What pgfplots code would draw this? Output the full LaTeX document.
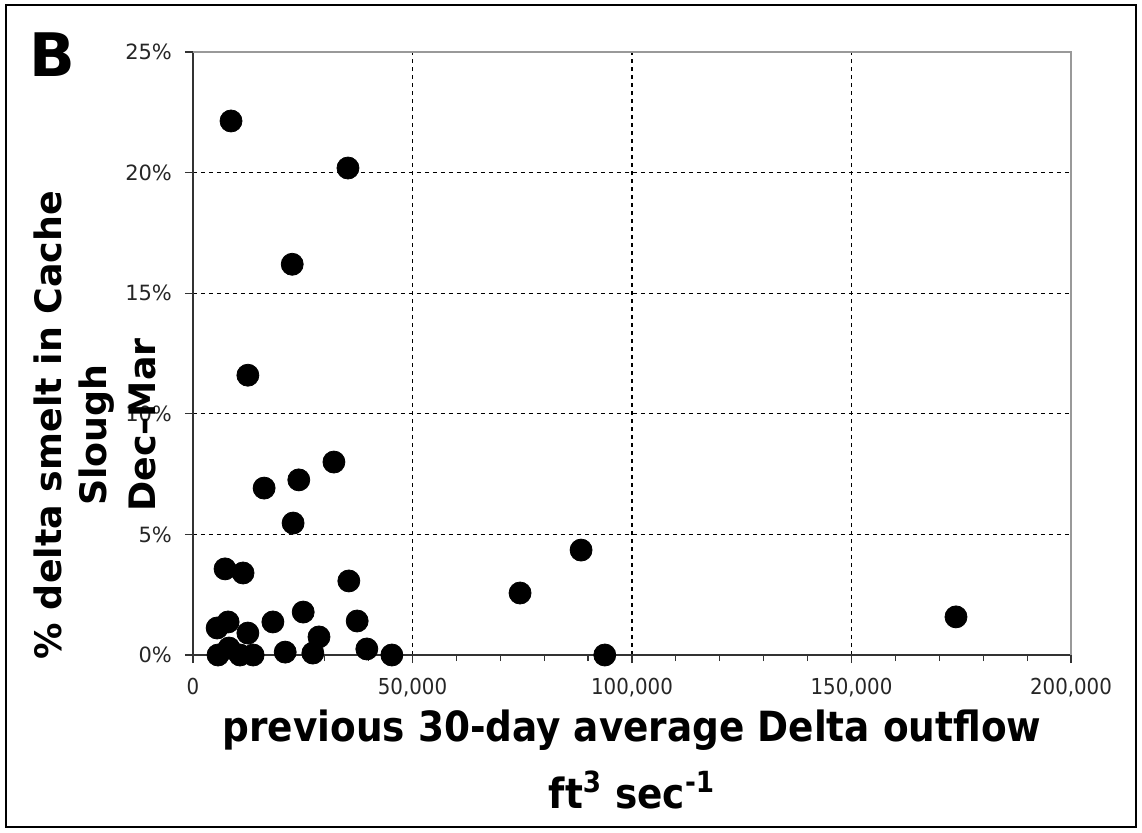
\documentclass[border=0pt]{standalone}
\usepackage{fontspec}
\setmainfont{DejaVu Sans}
\newfontfamily\condfont{DejaVu Sans Condensed}
\usepackage{pgfplots}
\pgfplotsset{compat=1.18}

\begin{document}
\begin{tikzpicture}
\begin{axis}[
  scale only axis,
  width=439pt, height=301.5pt,
  xmin=0, xmax=200000,
  ymin=0, ymax=25,
  axis x line*=bottom,
  axis y line*=left,
  axis line style={black!80, line width=0.8pt},
  xtick={0,50000,100000,150000,200000},
  xticklabels={0,{50,000},{100,000},{150,000},{200,000}},
  minor x tick num=4,
  ytick={0,5,10,15,20,25},
  yticklabels={0\%,5\%,10\%,15\%,20\%,25\%},
  tick align=outside,
  major tick length=4pt,
  minor tick length=3pt,
  tick style={black!80, line width=0.6pt},
  xmajorgrids, ymajorgrids,
  major grid style={black, line width=0.55pt, dash pattern=on 2pt off 2pt},
  scaled x ticks=false,
  xticklabel style={font=\condfont\fontsize{11}{12}\selectfont, text=black!85, yshift=-4pt},
  yticklabel style={font=\fontsize{10.5}{12}\selectfont, text=black!85, xshift=-3pt},
  clip=false,
]
\draw[black!40, line width=1.2pt] (rel axis cs:0,1) -- (rel axis cs:1,1) -- (rel axis cs:1,0);
\addplot[only marks, mark=*, mark size=5.5pt, black] coordinates {
 (8660,22.14) (35300,20.19) (22600,16.2) (12500,11.6) (32100,8.0)
 (24100,7.26) (16200,6.92) (22800,5.47) (88400,4.35) (7300,3.57)
 (11400,3.4) (35500,3.07) (74500,2.57) (173800,1.58) (25100,1.78)
 (18200,1.37) (37400,1.41) (8000,1.37) (5500,1.12) (12500,0.91)
 (28700,0.75) (8200,0.29) (39600,0.25) (21000,0.12) (27300,0.08)
 (5700,0) (10700,0) (13700,0) (45300,0) (93800,0)
};
\end{axis}
% labels
\node[font=\condfont\bfseries\fontsize{20.8}{24}\selectfont] at (219.5pt,-37.5pt) {previous 30-day average Delta outflow};
\node[font=\condfont\bfseries\fontsize{20.8}{24}\selectfont] at (219.5pt,-67.5pt) {ft\textsuperscript{3} sec\textsuperscript{-1}};
\node[font=\bfseries\fontsize{18.2}{22}\selectfont, rotate=90] at (-72.5pt,115pt) {\% delta smelt in Cache};
\node[font=\bfseries\fontsize{18.2}{22}\selectfont, rotate=90] at (-48pt,110pt) {Slough};
\node[font=\bfseries\fontsize{18.2}{22}\selectfont, rotate=90] at (-25.5pt,115pt) {Dec--Mar};
\node[font=\bfseries\fontsize{30}{32}\selectfont] at (-70.5pt,300pt) {B};
\draw[black, line width=1pt] (-93.5pt,-86pt) rectangle (471.5pt,325pt);
\pgfresetboundingbox
\path (-96.5pt,-88.5pt) rectangle (474.5pt,327.5pt);
\end{tikzpicture}
\end{document}
